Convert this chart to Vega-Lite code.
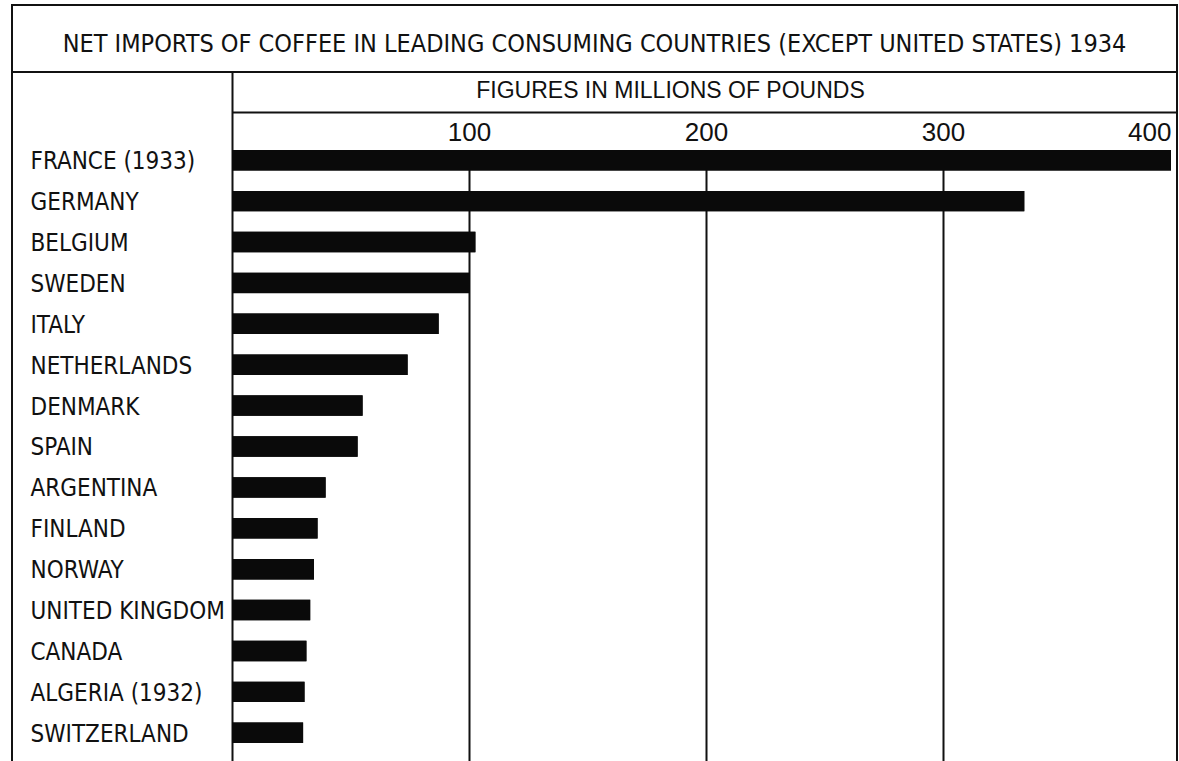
{
  "$schema": "https://vega.github.io/schema/vega-lite/v6.json",
  "padding": {"left": 11, "top": 4, "right": 0, "bottom": 0},
  "background": "white",
  "bounds": "flush",
  "spacing": 0,
  "config": {
    "view": {"stroke": "#111", "strokeWidth": 2},
    "font": "DejaVu Sans Condensed, Liberation Sans, sans-serif"
  },
  "datasets": {
    "imports": [
      {"country": "FRANCE (1933)", "pounds": 396.2},
      {"country": "GERMANY", "pounds": 334.3},
      {"country": "BELGIUM", "pounds": 102.7},
      {"country": "SWEDEN", "pounds": 100.3},
      {"country": "ITALY", "pounds": 87.2},
      {"country": "NETHERLANDS", "pounds": 74.1},
      {"country": "DENMARK", "pounds": 55.1},
      {"country": "SPAIN", "pounds": 53.0},
      {"country": "ARGENTINA", "pounds": 39.5},
      {"country": "FINLAND", "pounds": 36.1},
      {"country": "NORWAY", "pounds": 34.6},
      {"country": "UNITED KINGDOM", "pounds": 33.0},
      {"country": "CANADA", "pounds": 31.4},
      {"country": "ALGERIA (1932)", "pounds": 30.6},
      {"country": "SWITZERLAND", "pounds": 30.0}
    ]
  },
  "vconcat": [
    {
      "width": 1165,
      "height": 67,
      "view": {"stroke": "#111", "strokeWidth": 2},
      "data": {"values": [{"title": "NET IMPORTS OF COFFEE IN LEADING CONSUMING COUNTRIES (EXCEPT UNITED STATES) 1934"}]},
      "mark": {"type": "text", "fontSize": 25, "baseline": "middle", "dy": 5, "color": "#111"},
      "encoding": {"text": {"field": "title", "type": "nominal"}}
    },
    {
      "width": 1165,
      "height": 692,
      "data": {"name": "imports"},
      "layer": [
        {
          "mark": {"type": "bar", "color": "#0a0a0a", "height": {"band": 0.5}},
          "encoding": {
            "x": {
              "field": "pounds",
              "type": "quantitative",
              "scale": {"domain": [0, 400], "range": [220, 1168], "nice": false, "zero": true},
              "axis": {
                "orient": "top",
                "offset": -40,
                "values": [100, 200, 300, 400],
                "domain": true,
                "domainColor": "#111",
                "domainWidth": 2,
                "ticks": false,
                "tickSize": 0,
                "grid": false,
                "labelPadding": -28,
                "labelBaseline": "alphabetic",
                "labelFontSize": 26,
                "labelColor": "#111",
                "labelFont": "Liberation Sans",
                "labelFlush": true,
                "labelFlushOffset": -9,
                "labelAngle": 0,
                "labelOverlap": false,
                "title": "FIGURES IN MILLIONS OF POUNDS",
                "titleFont": "Liberation Sans",
                "titleFontSize": 23,
                "titleFontWeight": "normal",
                "titleColor": "#111",
                "titleX": 658,
                "titleY": -15,
                "titleAlign": "center",
                "titleBaseline": "alphabetic",
                "titleAngle": 0
              }
            },
            "y": {
              "field": "country",
              "type": "nominal",
              "sort": null,
              "scale": {"paddingInner": 0, "paddingOuter": 0.9603, "align": 0.86264},
              "axis": {
                "orient": "left",
                "offset": -220,
                "domain": true,
                "domainColor": "#111",
                "domainWidth": 2,
                "ticks": false,
                "tickSize": 0,
                "grid": false,
                "labelAlign": "left",
                "labelPadding": 202,
                "labelBaseline": "middle",
                "labelOffset": 2,
                "labelFontSize": 24,
                "labelColor": "#111",
                "labelLimit": 0,
                "title": null
              }
            }
          }
        },
        {
          "mark": {"type": "bar", "color": "#0a0a0a"},
          "encoding": {
            "x": {
              "field": "pounds",
              "type": "quantitative",
              "scale": {"domain": [0, 400], "range": [220, 1168], "nice": false, "zero": true},
              "axis": {
                "orient": "top",
                "values": [100, 200, 300],
                "grid": true,
                "gridColor": "#111",
                "gridWidth": 2,
                "gridOpacity": 1,
                "domain": false,
                "ticks": false,
                "labels": false,
                "title": null
              }
            },
            "y": {
              "field": "country",
              "type": "nominal",
              "sort": null,
              "scale": {"range": [78, 692], "paddingInner": 0.5, "paddingOuter": 0.2566, "align": 0},
              "axis": null
            }
          }
        }
      ],
      "resolve": {"scale": {"y": "independent"}, "axis": {"x": "independent", "y": "independent"}}
    }
  ]
}
